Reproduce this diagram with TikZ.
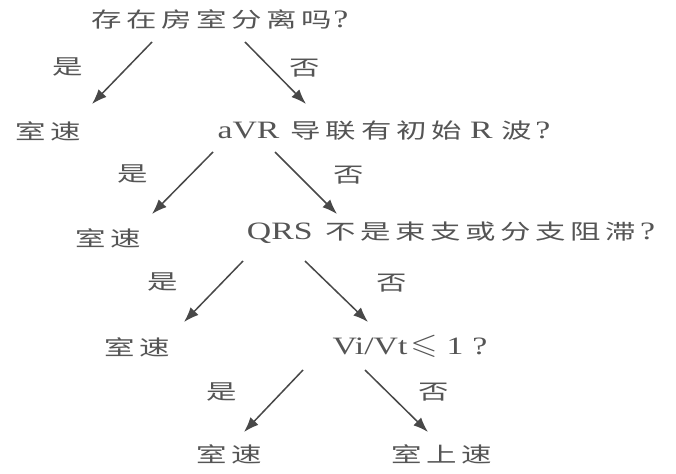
\documentclass[tikz,border=0pt]{standalone}
\usepackage{amssymb}
\usepackage{graphicx}
\usepackage{fontspec}
\setmainfont[FakeStretch=1.35]{Liberation Serif}
\newfontfamily\cjk[FakeStretch=1.45,LetterSpace=22]{Noto Sans CJK SC}
\usetikzlibrary{arrows.meta}
\definecolor{txtgray}{HTML}{555555}
\definecolor{arrgray}{HTML}{484848}
\newcommand{\cj}[1]{{\fontsize{21}{24}\selectfont\cjk #1}}
\begin{document}
\begin{tikzpicture}[x=1pt,y=-1pt,
  lbl/.style={text=txtgray,font=\fontsize{25}{28}\selectfont,inner sep=0pt},
  yn/.style={text=txtgray,font=\fontsize{21}{24}\selectfont\cjk,inner sep=0pt},
  arr/.style={draw=arrgray,line width=1.5pt,-{Latex[length=15pt,width=11pt]}}]
\fill[white] (0,0) rectangle (676,473);
\useasboundingbox (0,0) rectangle (676,473);
% nodes
\node[lbl] (q1) at (220,19) {\cj{存在房室分离吗}\hspace{1pt}?};
\node[lbl] (v1) at (48,131) {\cj{室速}};
\node[lbl] (q2) at (384,131) {aVR\hspace{3pt} \cj{导联有初始} R \cj{波}\hspace{4pt}?};
\node[lbl] (v2) at (108,238) {\cj{室速}};
\node[lbl] (q3) at (451,233) {QRS\hspace{4pt} \cj{不是束支或分支阻滞}\hspace{4pt}?};
\node[lbl] (v3) at (137,347) {\cj{室速}};
\node[lbl] (q4) at (410,346) {Vi/Vt\hspace{3pt}\raisebox{1pt}{\scalebox{1.4}[1.15]{$\leqslant$}}\hspace{9pt}1\hspace{9pt}?};
\node[lbl] (v4) at (229,454) {\cj{室速}};
\node[lbl] (s1) at (442,454) {\cj{室上速}};
% arrow end points
\coordinate (a1s) at (152,42);  \coordinate (a1e) at (92,104);
\coordinate (a2s) at (245,42);  \coordinate (a2e) at (306,104);
\coordinate (a3s) at (213,152); \coordinate (a3e) at (152,214);
\coordinate (a4s) at (275,152); \coordinate (a4e) at (337,214);
\coordinate (a5s) at (243,261); \coordinate (a5e) at (184,322);
\coordinate (a6s) at (305,261); \coordinate (a6e) at (368,322);
\coordinate (a7s) at (303,370); \coordinate (a7e) at (244,432);
\coordinate (a8s) at (365,370); \coordinate (a8e) at (428,432);
\draw[arr] (a1s) -- (a1e);
\draw[arr] (a2s) -- (a2e);
\draw[arr] (a3s) -- (a3e);
\draw[arr] (a4s) -- (a4e);
\draw[arr] (a5s) -- (a5e);
\draw[arr] (a6s) -- (a6e);
\draw[arr] (a7s) -- (a7e);
\draw[arr] (a8s) -- (a8e);
% yes/no labels
\node[yn] (y1) at (68,67) {是};
\node[yn] (n1) at (305,68) {否};
\node[yn] (y2) at (133,174) {是};
\node[yn] (n2) at (349,175) {否};
\node[yn] (y3) at (163,282) {是};
\node[yn] (n3) at (392,283) {否};
\node[yn] (y4) at (222,392) {是};
\node[yn] (n4) at (434,392) {否};
\end{tikzpicture}
\end{document}
